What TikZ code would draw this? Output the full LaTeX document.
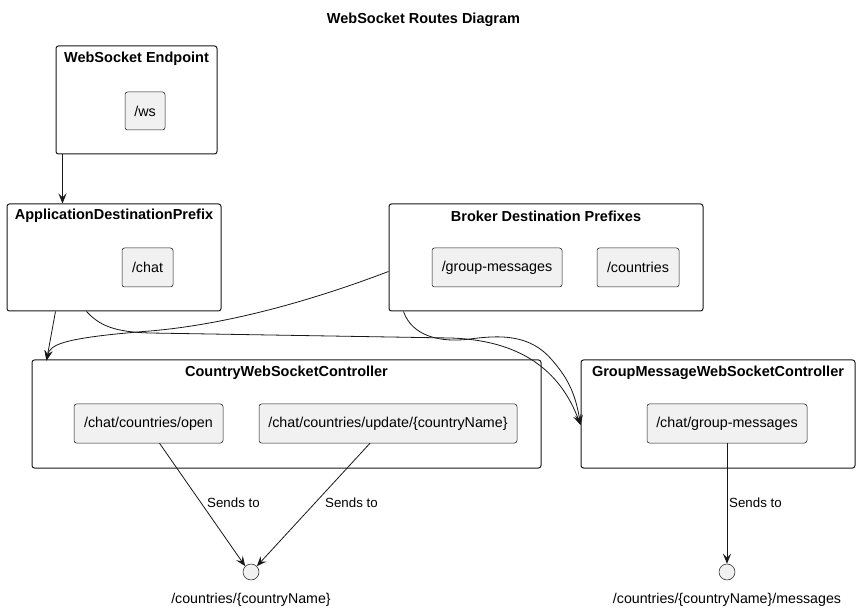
\documentclass[tikz,border=0pt]{standalone}
\usepackage{fontspec}
\setmainfont{Liberation Sans}
\usetikzlibrary{arrows.meta,calc}
\definecolor{inbg}{HTML}{F1F1F1}
\definecolor{ln}{HTML}{181818}
\tikzset{
  grp/.style={draw=ln,line width=1pt,rounded corners=2.5pt,fill=white,inner sep=0pt},
  gtitle/.style={font=\fontsize{14.5}{17}\selectfont\bfseries,inner sep=0pt},
  inbox/.style={draw=ln,line width=0.5pt,rounded corners=2.5pt,fill=inbg,inner sep=0pt,minimum height=39pt,font=\fontsize{14.3}{17}\selectfont},
  lbl/.style={font=\fontsize{13.3}{16}\selectfont,inner sep=0pt,anchor=west},
  circ/.style={circle,draw=ln,line width=0.5pt,fill=inbg,minimum size=16pt,inner sep=0pt},
  ctext/.style={font=\fontsize{14.2}{17}\selectfont,inner sep=0pt},
  arr/.style={draw=ln,line width=0.8pt,-{Stealth[length=10pt,width=8pt,inset=4pt]}}
}
\begin{document}
\begin{tikzpicture}[x=1pt,y=-1pt]
\useasboundingbox[fill=white] (0,0) rectangle (860,612);
\node[font=\fontsize{14.5}{17}\selectfont\bfseries,inner sep=0pt] (title) at (423.5,20) {WebSocket Routes Diagram};
% groups
\node[grp,minimum width=161pt,minimum height=108pt] (ws) at (136.5,100) {};
\node[gtitle] (wst) at (136.5,59) {WebSocket Endpoint};
\node[inbox,minimum width=40pt,minimum height=38pt] (wsi) at (145,111) {/ws};

\node[grp,minimum width=214pt,minimum height=107pt] (adp) at (114,257.5) {};
\node[gtitle] (adpt) at (114,216) {ApplicationDestinationPrefix};
\node[inbox,minimum width=51pt] (chat) at (147.5,267.5) {/chat};

\node[grp,minimum width=314pt,minimum height=107pt] (brk) at (546,257.5) {};
\node[gtitle] (brkt) at (546,216) {Broker Destination Prefixes};
\node[inbox,minimum width=130pt] (gm) at (497,267.5) {/group-messages};
\node[inbox,minimum width=82pt] (cty) at (638,267.5) {/countries};

\node[grp,minimum width=509pt,minimum height=108pt] (cwc) at (286.5,414) {};
\node[gtitle] (cwct) at (286.5,373) {CountryWebSocketController};
\node[inbox,minimum width=149pt] (open) at (148.5,423.5) {/chat/countries/open};
\node[inbox,minimum width=258pt] (upd) at (388,423.5) {/chat/countries/update/\{countryName\}};

\node[grp,minimum width=274pt,minimum height=108pt] (gmc) at (718,414) {};
\node[gtitle] (gmct) at (718,373) {GroupMessageWebSocketController};
\node[inbox,minimum width=160pt] (cgm) at (727,423.5) {/chat/group-messages};

% circles
\node[circ] (c1) at (251,572) {};
\node[ctext] (c1t) at (251,600) {/countries/\{countryName\}};
\node[circ] (c2) at (727,572) {};
\node[ctext] (c2t) at (727,600) {/countries/\{countryName\}/messages};

% edges
\draw[arr] ([xshift=7pt]ws.south west) -- ([xshift=56pt]adp.north west);
\draw[arr] ([xshift=49pt]adp.south west) -- ([xshift=15pt,yshift=-1pt]cwc.north west);
\draw[arr] ([yshift=-14pt]brk.west) .. controls (300,305) and (220,325) .. (150,331)
   .. controls (60,338) and (50,345) .. ([xshift=15pt,yshift=-1pt]cwc.north west);
\draw[arr] ([xshift=80pt]adp.south west) .. controls (100,326) and (115,332) .. (150,333)
   -- (450,338) .. controls (520,340) and (560,370) .. ([yshift=-11pt]gmc.west);
\draw[arr] ([xshift=15pt]brk.south west) .. controls (412,336) and (440,343) .. (470,339)
   .. controls (500,335) and (530,334) .. (552,360) .. controls (565,375) and (575,390) .. ([yshift=-11pt]gmc.west);

\draw[arr] ([xshift=11pt]open.south) -- (c1.north west);
\draw[arr] ([xshift=-18pt]upd.south) -- (c1.north east);
\draw[arr] (cgm.south) -- (c2.north);

\node[lbl] (s1) at (207,503) {Sends to};
\node[lbl] (s2) at (325,503) {Sends to};
\node[lbl] (s3) at (729,503) {Sends to};
\end{tikzpicture}
\end{document}
